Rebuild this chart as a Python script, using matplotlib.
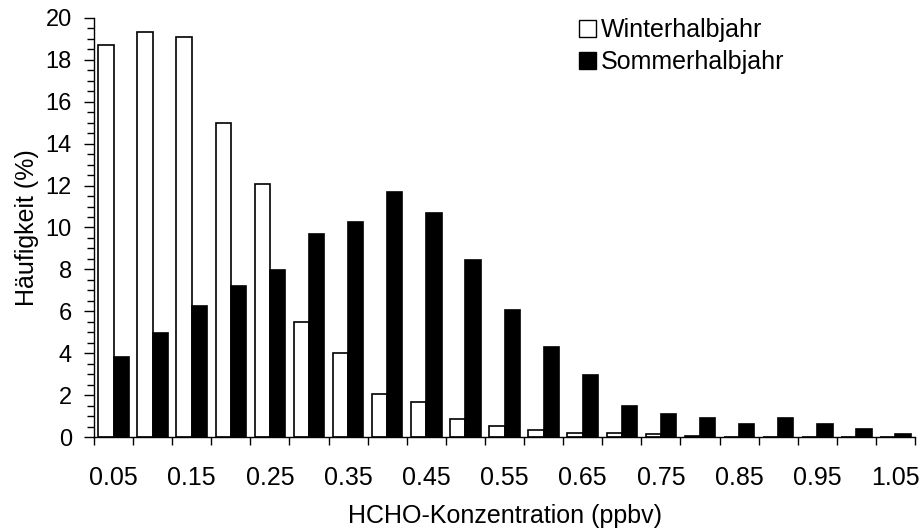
import numpy as np
from matplotlib import pyplot as plt
from matplotlib.patches import Patch
from matplotlib.ticker import MultipleLocator

plt.rcParams['font.family'] = ['Liberation Sans', 'DejaVu Sans']

konz = ['0.05', '0.10', '0.15', '0.20', '0.25', '0.30', '0.35', '0.40', '0.45',
        '0.50', '0.55', '0.60', '0.65', '0.70', '0.75', '0.80', '0.85', '0.90',
        '0.95', '1.00', '1.05']
winter = [18.7, 19.35, 19.1, 15.0, 12.06, 5.5, 4.02, 2.04, 1.67, 0.85, 0.53,
          0.32, 0.19, 0.2, 0.15, 0.05, 0.0, 0.0, 0.0, 0.0, 0.0]
sommer = [3.82, 4.95, 6.26, 7.21, 7.98, 9.67, 10.27, 11.68, 10.69, 8.47, 6.05,
          4.3, 2.96, 1.48, 1.1, 0.93, 0.6, 0.9, 0.64, 0.37, 0.12]

x = np.arange(len(konz))
w = 0.39

fig = plt.figure(figsize=[9.23, 5.30], dpi=100)
ax = fig.add_axes([94/923, 1 - 437/530, 821/923, 419/530])

ax.bar(x - w/2, winter, w, color='white', edgecolor='black', linewidth=1.2)
ax.bar(x + w/2, sommer, w, color='black', edgecolor='black', linewidth=1.2)

ax.set_xlim(-0.5, len(konz) - 0.5)
ax.set_ylim(0, 20)

# labels on every second category, tick marks between categories
ax.set_xticks(x[::2])
ax.set_xticklabels(konz[::2])
ax.set_xticks(np.arange(-0.5, len(konz)), minor=True)
ax.tick_params(axis='x', which='major', length=0, pad=21, labelsize=18)
ax.tick_params(axis='x', which='minor', length=6, width=1, direction='out')

ax.yaxis.set_major_locator(MultipleLocator(2))
ax.yaxis.set_minor_locator(MultipleLocator(0.5))
ax.tick_params(axis='y', which='major', length=7, width=1, pad=9, labelsize=17)
ax.tick_params(axis='y', which='minor', length=5, width=1)

for s in ['top', 'right']:
    ax.spines[s].set_visible(False)
ax.spines['left'].set_linewidth(1)
ax.spines['bottom'].set_linewidth(1)

ax.set_xlabel('HCHO-Konzentration (ppbv)', fontsize=18, labelpad=10)
ax.set_ylabel('Häufigkeit (%)', fontsize=18)
ax.yaxis.set_label_coords(-0.067, 0.5)

handles = [Patch(facecolor='white', edgecolor='black', label='Winterhalbjahr'),
           Patch(facecolor='black', edgecolor='black', label='Sommerhalbjahr')]
fig.legend(handles=handles, loc='upper left', bbox_to_anchor=(579/923, 1 - 18/530),
           frameon=False, fontsize=18, handlelength=0.68, handleheight=0.68,
           handletextpad=0.18, labelspacing=0.32, borderpad=0, borderaxespad=0)

fig.savefig('out.png', dpi=100)
